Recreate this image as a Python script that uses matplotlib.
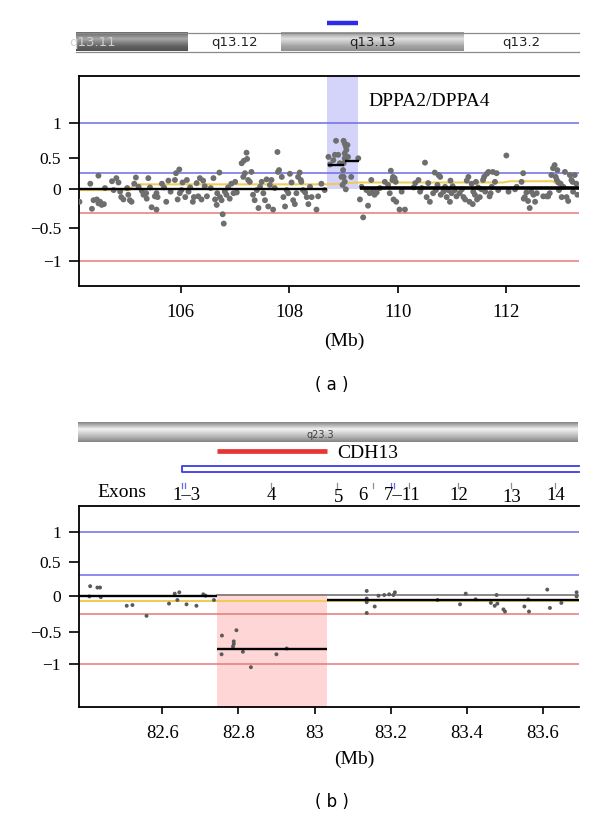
import numpy as np
import matplotlib
matplotlib.use("Agg")
import matplotlib.pyplot as plt

plt.rcParams['font.family'] = ['Liberation Serif', 'DejaVu Serif']

W, H = 600, 823

# ---------------- panel (a): 12q13, log2 ratio probes ----------------
a_x = [104.13, 104.33, 104.36, 104.39, 104.45, 104.48, 104.48, 104.51, 104.54, 104.58,
       104.60, 104.73, 104.76, 104.81, 104.85, 104.88, 104.90, 104.94, 105.01, 105.03,
       105.06, 105.09, 105.14, 105.17, 105.22, 105.28, 105.31, 105.36, 105.37, 105.40,
       105.43, 105.46, 105.52, 105.55, 105.55, 105.57, 105.65, 105.69, 105.73, 105.77,
       105.81, 105.89, 105.91, 105.94, 105.97, 105.98, 106.01, 106.03, 106.08, 106.11,
       106.14, 106.17, 106.22, 106.24, 106.29, 106.32, 106.35, 106.38, 106.41, 106.44,
       106.48, 106.55, 106.60, 106.63, 106.66, 106.67, 106.71,
       106.72, 106.75, 106.77, 106.79, 106.81, 106.84, 106.87, 106.90, 106.93, 106.97,
       107.00, 107.03, 107.12, 107.16, 107.21, 107.22, 107.15, 107.18, 107.24, 107.27,
       107.30, 107.33, 107.36, 107.40, 107.43, 107.46, 107.49, 107.52, 107.55, 107.58,
       107.61, 107.64, 107.67, 107.70, 107.73, 107.78, 107.79, 107.81, 107.86, 107.89,
       107.92, 107.95, 107.98, 108.01, 108.04, 108.07, 108.10, 108.13, 108.16, 108.19,
       108.21, 108.22, 108.25, 108.29, 108.32, 108.35, 108.38, 108.41, 108.50, 108.53,
       108.59, 108.65,
       108.72, 108.75, 108.81, 108.84, 108.86, 108.90, 108.93, 108.96, 108.98, 109.00,
       109.02, 109.04, 109.02, 109.02, 109.00, 108.99, 109.00, 109.02, 109.04, 109.05,
       109.07, 109.08, 109.14, 109.27,
       109.30, 109.33, 109.36, 109.42, 109.45, 109.48, 109.51, 109.54, 109.57, 109.61,
       109.67, 109.76, 109.82, 109.85, 109.87, 109.90, 109.91, 109.92, 109.94, 109.96,
       109.97, 110.03, 110.07, 110.13,
       110.29, 110.32, 110.38, 110.41, 110.44, 110.50, 110.53, 110.56, 110.59, 110.65,
       110.68, 110.70, 110.73, 110.75, 110.78, 110.79, 110.84, 110.87, 110.90, 110.93,
       110.96, 110.97, 110.99, 111.01, 111.05, 111.08, 111.14, 111.18, 111.21, 111.24,
       111.27, 111.30, 111.32, 111.36, 111.38, 111.39, 111.42, 111.44, 111.46, 111.48,
       111.51, 111.54, 111.57, 111.59, 111.61, 111.64, 111.67, 111.69, 111.71, 111.73,
       111.75, 111.79, 111.82, 111.85, 112.00, 112.04, 112.16, 112.19, 112.28, 112.31,
       112.32, 112.34, 112.37, 112.40, 112.43, 112.46, 112.50, 112.53, 112.56, 112.68,
       112.74, 112.77, 112.80, 112.83, 112.86, 112.89, 112.91, 112.93, 112.94, 112.96,
       112.97, 113.00, 113.02, 113.05, 113.08, 113.11, 113.14, 113.17, 113.20, 113.22,
       113.23, 113.26, 113.29, 113.31]
a_y = [-0.16, 0.09, -0.25, -0.14, -0.13, -0.18, 0.22, -0.16, -0.20, -0.19,
       0.02, 0.13, -0.01, 0.18, 0.11, -0.03, -0.10, -0.13, 0.02, -0.07,
       -0.14, -0.16, 0.09, 0.19, 0.04, -0.02, -0.07, -0.05, -0.12, 0.18,
       0.03, -0.23, -0.09, -0.26, -0.05, -0.10, 0.09, 0.03, -0.16, 0.14,
       -0.03, 0.15, 0.26, -0.13, 0.32, -0.05, -0.01, 0.11, -0.10, 0.15,
       -0.03, 0.03, -0.16, -0.10, 0.10, -0.09, 0.18, -0.13, 0.14, 0.05,
       -0.09, 0.02, 0.18, -0.13, -0.20, -0.05, 0.27,
       -0.10, -0.14, -0.32, -0.44, -0.03, -0.07, 0.03, -0.12, 0.09, -0.05,
       0.12, -0.04, 0.42, 0.46, 0.58, 0.49, 0.20, 0.26, 0.15, 0.12,
       0.28, -0.07, -0.14, -0.01, -0.24, 0.04, 0.12, -0.05, -0.14, 0.16,
       -0.22, 0.07, 0.15, -0.26, 0.02, 0.59, 0.28, 0.31, 0.20, -0.10,
       -0.22, -0.01, -0.05, 0.25, 0.11, -0.14, -0.19, -0.05, 0.20, 0.27,
       0.15, 0.12, -0.01, -0.04, -0.10, -0.19, 0.04, -0.10, -0.26, -0.09,
       0.09, -0.01,
       0.52, 0.40, 0.47, 0.55, 0.75, 0.55, 0.42, 0.20, 0.07, 0.75,
       0.71, 0.67, 0.57, 0.50, 0.42, 0.31, 0.20, 0.12, 0.00, 0.62,
       0.69, 0.52, 0.20, 0.50,
       -0.13, 0.04, -0.36, -0.01, -0.21, -0.05, 0.15, -0.01, -0.07, -0.04,
       0.02, 0.12, 0.07, -0.05, 0.30, 0.15, 0.20, -0.13, 0.18, 0.12,
       -0.16, -0.26, -0.03, -0.26,
       0.03, 0.10, 0.15, -0.03, 0.02, 0.43, -0.10, 0.10, -0.16, -0.05,
       0.27, -0.01, 0.07, 0.23, 0.20, -0.07, -0.03, 0.04, -0.10, -0.01,
       -0.16, 0.14, -0.05, 0.05, -0.01, -0.09, -0.05, 0.00, -0.10, -0.13,
       0.14, 0.20, -0.16, 0.09, -0.19, -0.03, -0.07, 0.12, -0.13, 0.03,
       -0.10, 0.00, 0.15, 0.20, -0.03, 0.25, 0.28, -0.09, -0.05, 0.04,
       0.28, 0.12, 0.26, -0.01, 0.54, -0.03, 0.00, 0.04, 0.12, 0.26,
       -0.12, -0.10, -0.04, -0.15, -0.24, -0.03, -0.07, -0.16, -0.05, -0.09,
       -0.09, -0.09, -0.05, 0.23, 0.34, 0.39, 0.20, 0.15, 0.31, 0.11,
       -0.01, 0.09, -0.10, 0.04, 0.28, -0.10, -0.15, 0.23, 0.15, 0.12,
       -0.03, 0.23, 0.09, -0.07]

a_seg_x0 = [104.13, 108.72, 109.02, 109.30]
a_seg_x1 = [108.70, 109.00, 109.29, 113.33]
a_seg_y = [0.0, 0.39, 0.455, 0.015]
a_trend_x = [104.13, 105.06, 105.13, 108.70, 109.30, 111.94, 112.07, 112.85, 113.07, 113.33]
a_trend_y = [-0.01, -0.01, 0.08, 0.08, 0.11, 0.11, 0.13, 0.13, 0.02, 0.02]
a_gain_lines = [1.0, 0.27]
a_loss_lines = [-0.30, -1.0]
a_region = (108.70, 109.27)
a_region_name = 'DPPA2/DPPA4'
a_bands = [104.07, 106.14, 107.84, 111.21, 113.33]
a_band_names = ['q13.11', 'q13.12', 'q13.13', 'q13.2']
a_band_kind = ['dark', 'white', 'gray', 'white']

# ---------------- panel (b): 16q23.3, CDH13 ----------------
b_x = [82.411, 82.409, 82.430, 82.437, 82.439, 82.507, 82.522, 82.559, 82.618, 82.633,
       82.645, 82.640, 82.664, 82.690, 82.708, 82.714, 82.736,
       82.757, 82.795, 82.756, 82.788, 82.788, 82.786, 82.812, 82.833, 82.900, 82.927,
       83.137, 83.137, 83.137, 83.137, 83.158, 83.168, 83.183, 83.196, 83.207, 83.211,
       83.323, 83.382, 83.397, 83.423, 83.463, 83.473, 83.480, 83.478, 83.496, 83.500,
       83.551, 83.561, 83.563, 83.611, 83.618, 83.648, 83.688, 83.688]
b_y = [0.14, -0.01, 0.12, 0.12, -0.02, -0.14, -0.13, -0.28, -0.11, 0.03,
       0.05, -0.06, -0.12, -0.14, 0.02, 0.00, -0.06,
       -0.56, -0.48, -0.85, -0.65, -0.69, -0.73, -0.81, -1.05, -0.85, -0.76,
       0.07, -0.04, -0.09, -0.24, -0.15, 0.00, 0.01, 0.02, 0.01, 0.05,
       -0.06, -0.12, 0.03, -0.05, -0.10, -0.14, -0.11, 0.01, -0.19, -0.22,
       -0.15, -0.05, -0.22, 0.09, -0.17, -0.10, 0.05, -0.01]
b_seg_x0 = [82.382, 82.745, 83.032]
b_seg_x1 = [82.745, 83.032, 83.693]
b_seg_y = [0.0, -0.77, -0.055]
b_trend_y = -0.07
b_gain_lines = [1.0, 0.30]
b_loss_lines = [-0.25, -1.0]
b_region = (82.745, 83.032)
b_band = (82.38, 83.69)
b_gene_start = 82.653
b_exon_x = [82.653, 82.659, 82.886, 83.060, 83.153, 83.202, 83.209, 83.247, 83.376, 83.515, 83.632]
b_exon_blue = [True, True, False, False, False, True, True, False, False, False, False]
b_exon_label_x = [82.664, 82.886, 83.062, 83.128, 83.231, 83.378, 83.517, 83.634]
b_exon_labels = ['1\u20133', '4', '5', '6', '7\u201311', '12', '13', '14']
b_exon_label_dy = [0, 0, 1.5, 0, 0, -1, 1.5, -0.5]

yticks = [-1, -0.5, 0, 0.5, 1]
ytick_labels = ['\u22121', '\u22120.5', '0', '0.5', '1']


def box(l, t, r, b):
    return [l / W, 1 - b / H, (r - l) / W, (b - t) / H]


def piecewise(xk, yk):
    xk = np.asarray(xk, float)
    yk = np.asarray(yk, float)
    s0 = (yk[1] - yk[0]) / (xk[1] - xk[0])
    s1 = (yk[-1] - yk[-2]) / (xk[-1] - xk[-2])

    def f(v):
        v = np.asarray(v, float)
        out = np.interp(v, xk, yk)
        out = np.where(v < xk[0], yk[0] + (v - xk[0]) * s0, out)
        out = np.where(v > xk[-1], yk[-1] + (v - xk[-1]) * s1, out)
        return out
    return f


def setup_main(ax, tick_px, top_px, bot_px, xlim, xticks, xlabels):
    neg = [-p for p in tick_px]
    fwd = piecewise(yticks, neg)
    inv = piecewise(neg, yticks)
    ax.set_yscale('function', functions=(fwd, inv))
    ax.set_ylim(float(inv(-bot_px)), float(inv(-top_px)))
    ax.set_xlim(*xlim)
    ax.set_yticks(yticks)
    ax.set_yticklabels(ytick_labels)
    ax.set_xticks(xticks)
    ax.set_xticklabels(xlabels)
    ax.spines['right'].set_visible(False)
    for s in ['left', 'bottom', 'top']:
        ax.spines[s].set_linewidth(1.3)
    ax.tick_params(axis='y', direction='out', length=7, width=1.2, pad=6, labelsize=12.5)
    ax.tick_params(axis='x', direction='out', length=5, width=1.2, pad=8, labelsize=13.5)
    ax.minorticks_off()


def gradient(kind, n=60):
    t = np.linspace(0, 1, n)
    if kind == 'dark':
        k = np.interp(t, [0, 0.12, 0.35, 0.75, 1], [0.42, 0.48, 0.66, 0.38, 0.32])
    elif kind == 'gray':
        k = np.interp(t, [0, 0.12, 0.35, 0.75, 1], [0.60, 0.68, 0.88, 0.64, 0.56])
    elif kind == 'light':
        k = np.interp(t, [0, 0.12, 0.35, 0.75, 1], [0.52, 0.66, 0.95, 0.70, 0.52])
    else:
        k = np.ones(n)
    return np.repeat(k[:, None, None], 3, axis=2)


fig = plt.figure(figsize=(W / 100, H / 100), dpi=100)

# ======== panel (a) ========
ax_a = fig.add_axes(box(79.3, 76.4, 578.5, 286))
a_xlim = (104.127, 113.33)
setup_main(ax_a, [261.2, 228.3, 189.3, 158.3, 123.3], 76.4, 286, a_xlim,
           [106, 108, 110, 112], ['106', '108', '110', '112'])
ax_a.fill_between(a_region, 0, ax_a.get_ylim()[1], color='#d4d4fa', lw=0, zorder=0)
for v in a_gain_lines:
    ax_a.axhline(v, color='#6c6ce6', lw=1.1, zorder=1)
for v in a_loss_lines:
    ax_a.axhline(v, color='#e37a7a', lw=1.1, zorder=1)
ax_a.plot(a_trend_x, a_trend_y, color='#efcc5a', lw=1.5, zorder=2)
ax_a.scatter(a_x, a_y, s=18, color='#6e6e6e', edgecolors='none', zorder=3)
for x0, x1, y in zip(a_seg_x0, a_seg_x1, a_seg_y):
    lw = 2.6 if x0 > 109.1 else 1.7
    ax_a.plot([x0, x1], [y, y], color='black', lw=lw, zorder=4, solid_capstyle='butt')
fig.text(368 / W, 1 - 102 / H, a_region_name, fontsize=14, ha='left', va='center')

# header (a): ideogram
px_per_mb_a = (578.5 - 79.3) / (a_xlim[1] - a_xlim[0])
hd_a = fig.add_axes(box(0, 10, W, 60))
hx_a = (a_xlim[0] - 79.3 / px_per_mb_a, a_xlim[0] + (W - 79.3) / px_per_mb_a)
hd_a.set_xlim(*hx_a)
hd_a.set_ylim(60, 10)
hd_a.axis('off')
band_top, band_bot = 32.5, 51.5
clip = matplotlib.patches.Rectangle((a_bands[0], band_top), a_bands[-1] - a_bands[0],
                                    band_bot - band_top, transform=hd_a.transData,
                                    fill=False, lw=0)
hd_a.add_patch(clip)
for i, name in enumerate(a_band_names):
    x0, x1 = a_bands[i], a_bands[i + 1]
    hd_a.imshow(gradient(a_band_kind[i]), extent=(x0, x1, band_bot, band_top),
                aspect='auto', interpolation='bilinear', zorder=1)
    tc = '#d0d0d0' if a_band_kind[i] == 'dark' else '#222222'
    cx = (x0 + x1) / 2
    if a_band_kind[i] == 'dark':
        cx = x0 + 0.30
    t = hd_a.text(cx, (band_top + band_bot) / 2 + 0.5, name, fontsize=9.5,
                  family='DejaVu Sans', color=tc, ha='center', va='center', zorder=3)
    t.set_clip_path(clip)
hd_a.plot([a_bands[0], a_bands[-1]], [band_top, band_top], color='#8a8a8a', lw=0.9, zorder=2)
hd_a.plot([a_bands[0], a_bands[-1]], [band_bot, band_bot], color='#8a8a8a', lw=0.9, zorder=2)
hd_a.plot(a_region, [22.7, 22.7], color='#2c2ce6', lw=3.2, solid_capstyle='butt')
hd_a.set_xlim(*hx_a)
hd_a.set_ylim(60, 10)

fig.text(344 / W, 1 - 341 / H, '(Mb)', fontsize=14, ha='center', va='center')
fig.text(332 / W, 1 - 385 / H, '( a )', fontsize=12, family='DejaVu Sans', ha='center', va='center')

# ======== panel (b) ========
ax_b = fig.add_axes(box(79.1, 506.1, 578.5, 707.4))
b_xlim = (82.382, 83.693)
setup_main(ax_b, [664, 631.7, 595.7, 561.7, 532.3], 506.1, 707.4, b_xlim,
           [82.6, 82.8, 83.0, 83.2, 83.4, 83.6], ['82.6', '82.8', '83', '83.2', '83.4', '83.6'])
lo, hi = ax_b.get_ylim()
ax_b.fill_between(b_region, lo, 0.02, color='#ffd6d6', lw=0, zorder=0)
for v in b_gain_lines:
    ax_b.axhline(v, color='#6c6ce6', lw=1.1, zorder=1)
for v in b_loss_lines:
    ax_b.axhline(v, color='#e37a7a', lw=1.1, zorder=1)
ax_b.axhline(b_trend_y, color='#efcc5a', lw=1.5, zorder=2)
ax_b.plot([b_region[0], b_xlim[1]], [0.01, 0.01], color='#6a6a6a', lw=1.1, zorder=2)
ax_b.scatter(b_x, b_y, s=8, color='#5a5a5a', edgecolors='none', zorder=3)
for x0, x1, y in zip(b_seg_x0, b_seg_x1, b_seg_y):
    ax_b.plot([x0, x1], [y, y], color='black', lw=1.7, zorder=4, solid_capstyle='butt')

# header (b)
px_per_mb_b = (578.5 - 79.1) / (b_xlim[1] - b_xlim[0])
hd_b = fig.add_axes(box(0, 412, W, 506))
hx = (b_xlim[0] - 79.1 / px_per_mb_b, b_xlim[0] + (W - 79.1) / px_per_mb_b)
hd_b.axis('off')
hd_b.imshow(gradient('light'), extent=(b_band[0], b_band[1], 442.5, 422.5),
            aspect='auto', interpolation='bilinear', zorder=1)
hd_b.text((b_band[0] + b_band[1]) / 2 - 0.02, 435, 'q23.3', fontsize=7, family='DejaVu Sans Condensed',
          color='#404040', ha='center', va='center', zorder=3)
hd_b.plot(b_region, [451, 451], color='#e83434', lw=3.4, solid_capstyle='butt')
hd_b.text(83.06, 453, 'CDH13', fontsize=14, ha='left', va='center')
hd_b.plot([b_xlim[1], b_gene_start, b_gene_start, b_xlim[1]], [466, 466, 471.5, 471.5],
          color='#3c3ce4', lw=1.3)
for x, blue in zip(b_exon_x, b_exon_blue):
    hd_b.plot([x, x], [482.5, 488], color='#6a6ae0' if blue else '#909090', lw=0.9)
for x, lab, dy in zip(b_exon_label_x, b_exon_labels, b_exon_label_dy):
    hd_b.text(x, 496 + dy, lab, fontsize=13.5, ha='center', va='center')
hd_b.set_xlim(*hx)
hd_b.set_ylim(506, 412)
fig.text(121.7 / W, 1 - 493 / H, 'Exons', fontsize=14, ha='center', va='center')

fig.text(354 / W, 1 - 759 / H, '(Mb)', fontsize=14, ha='center', va='center')
fig.text(332 / W, 1 - 802 / H, '( b )', fontsize=12, family='DejaVu Sans', ha='center', va='center')

fig.savefig('out.png', dpi=100)
